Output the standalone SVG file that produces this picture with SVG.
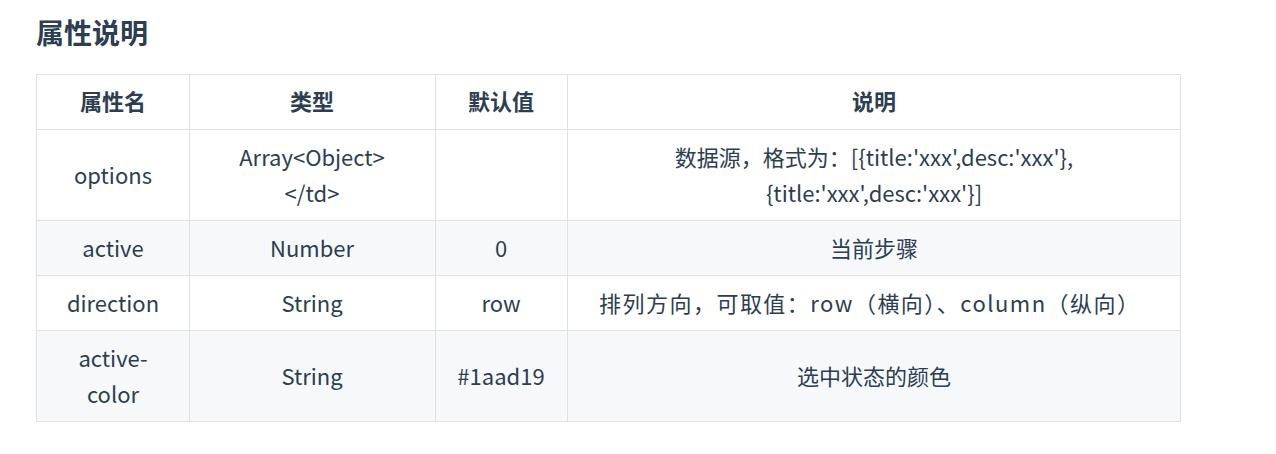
<svg xmlns="http://www.w3.org/2000/svg" width="1276" height="454" viewBox="0 0 1276 454">
<style>
text{font-family:"Noto Sans CJK SC","Noto Sans",sans-serif;font-size:22px;fill:#2c3e50;text-anchor:middle}
.h{font-weight:bold}
.t{font-size:28px;font-weight:bold;text-anchor:start}
.c{fill:#fff;stroke:#dfe2e5;stroke-width:1}
.s{fill:#f6f8fa;stroke:#dfe2e5;stroke-width:1}
line{stroke:#dfe2e5;stroke-width:1}
</style>
<rect width="1276" height="454" fill="#fff"/>
<text class="t" x="36" y="44">属性说明</text>
<g id="table">
<rect class="c" x="36.5" y="74.5" width="1144" height="55"/>
<rect class="c" x="36.5" y="129.5" width="1144" height="91"/>
<rect class="s" x="36.5" y="220.5" width="1144" height="55"/>
<rect class="c" x="36.5" y="275.5" width="1144" height="55"/>
<rect class="s" x="36.5" y="330.5" width="1144" height="91"/>
<line x1="189.5" y1="74" x2="189.5" y2="421"/>
<line x1="435.5" y1="74" x2="435.5" y2="421"/>
<line x1="567.5" y1="74" x2="567.5" y2="421"/>
</g>
<g id="header">
<text class="h" x="113" y="110">属性名</text>
<text class="h" x="312" y="110">类型</text>
<text class="h" x="501" y="110">默认值</text>
<text class="h" x="874" y="110">说明</text>
</g>
<g id="row1">
<text x="113" y="184">options</text>
<text x="312" y="166">Array&lt;Object&gt;</text>
<text x="312" y="202">&lt;/td&gt;</text>
<text x="874" y="166">数据源，格式为：[{title:'xxx',desc:'xxx'},</text>
<text x="874" y="202">{title:'xxx',desc:'xxx'}]</text>
</g>
<g id="row2">
<text x="113" y="257">active</text>
<text x="312" y="257">Number</text>
<text x="501" y="257">0</text>
<text x="874" y="257">当前步骤</text>
</g>
<g id="row3">
<text x="113" y="312">direction</text>
<text x="312" y="312">String</text>
<text x="501" y="312">row</text>
<text x="869" y="312" textLength="540" lengthAdjust="spacing">排列方向，可取值：row（横向）、column（纵向）</text>
</g>
<g id="row4">
<text x="113" y="367">active-</text>
<text x="113" y="403">color</text>
<text x="312" y="385">String</text>
<text x="501" y="385">#1aad19</text>
<text x="874" y="385">选中状态的颜色</text>
</g>
</svg>
